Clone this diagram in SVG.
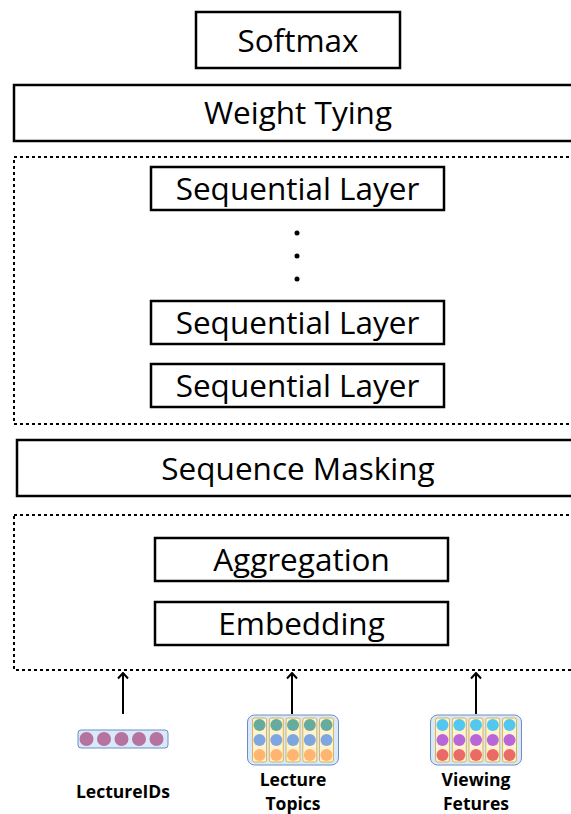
<svg xmlns="http://www.w3.org/2000/svg" width="571" height="814" viewBox="0 0 571 814">
  <defs>
    <style>
      .box { fill: #ffffff; stroke: #000000; stroke-width: 2.5; }
      .group { fill: none; stroke: #000000; stroke-width: 2; stroke-dasharray: 3 3; }
      .lbl { font-family: "Open Sans", "Noto Sans", "DejaVu Sans", sans-serif; font-size: 31.5px; fill: #000000; text-anchor: middle; }
      .cap { font-family: "Open Sans", "Noto Sans", "DejaVu Sans", sans-serif; font-size: 17.5px; font-weight: bold; fill: #000000; text-anchor: middle; }
      .edge { fill: none; stroke: #000000; stroke-width: 2; }
      .tray { fill: #dae8fc; stroke: #6c8ebf; stroke-width: 1; }
      .col { fill: #fff2cc; stroke: #d6b656; stroke-width: 1; }
    </style>
    <marker id="arrow" viewBox="0 0 10 12" refX="8.5" refY="6" markerWidth="10" markerHeight="12" markerUnits="userSpaceOnUse" orient="auto">
      <path d="M3 1 L8.5 6 L3 11" fill="none" stroke="#000000" stroke-width="2"/>
    </marker>
    <!-- one feature column: three dots stacked -->
    <g id="col3">
      <rect class="col" x="-7" y="-22" width="14" height="44" rx="2"/>
      <circle cx="0" cy="-15" r="6"/>
    </g>
  </defs>

  <!-- dashed grouping frames -->
  <rect id="stack-frame" class="group" x="14" y="157" width="600" height="267"/>
  <rect id="input-frame" class="group" x="14" y="515" width="600" height="155"/>

  <g id="softmax">
    <rect class="box" x="196" y="12" width="204" height="56"/>
    <text class="lbl" x="298" y="52">Softmax</text>
  </g>

  <g id="weight-tying">
    <rect class="box" x="14" y="85" width="600" height="56"/>
    <text class="lbl" x="298" y="124">Weight Tying</text>
  </g>

  <g id="seq-layer-top">
    <rect class="box" x="151" y="167" width="293" height="43"/>
    <text class="lbl" x="297.5" y="200">Sequential Layer</text>
  </g>

  <g id="ellipsis">
    <circle cx="297" cy="233" r="2.5" fill="#000000"/>
    <circle cx="297" cy="256" r="2.5" fill="#000000"/>
    <circle cx="297" cy="279" r="2.5" fill="#000000"/>
  </g>

  <g id="seq-layer-2">
    <rect class="box" x="151" y="301" width="293" height="43"/>
    <text class="lbl" x="297.5" y="334">Sequential Layer</text>
  </g>

  <g id="seq-layer-1">
    <rect class="box" x="151" y="364" width="293" height="43"/>
    <text class="lbl" x="297.5" y="397">Sequential Layer</text>
  </g>

  <g id="sequence-masking">
    <rect class="box" x="17" y="440" width="600" height="56"/>
    <text class="lbl" x="298" y="480">Sequence Masking</text>
  </g>

  <g id="aggregation">
    <rect class="box" x="155" y="538" width="293" height="43"/>
    <text class="lbl" x="301.5" y="571">Aggregation</text>
  </g>

  <g id="embedding">
    <rect class="box" x="155" y="602" width="293" height="43"/>
    <text class="lbl" x="301.5" y="635">Embedding</text>
  </g>

  <!-- input features -->
  <g id="lecture-ids">
    <rect class="tray" x="78" y="730" width="90" height="18" rx="3"/>
    <g fill="#b5739d">
      <circle cx="86.5" cy="739" r="7"/>
      <circle cx="104" cy="739" r="7"/>
      <circle cx="121.5" cy="739" r="7"/>
      <circle cx="139" cy="739" r="7"/>
      <circle cx="156.5" cy="739" r="7"/>
    </g>
    <text class="cap" x="123" y="798">LectureIDs</text>
  </g>

  <g id="lecture-topics">
    <rect class="tray" x="247.5" y="715" width="91" height="50" rx="7"/>
    <g fill="#67ab9f">
      <use href="#col3" x="259.5" y="740"/>
      <use href="#col3" x="276.3" y="740"/>
      <use href="#col3" x="293" y="740"/>
      <use href="#col3" x="309.8" y="740"/>
      <use href="#col3" x="326.5" y="740"/>
    </g>
    <g fill="#7ea6e0">
      <circle cx="259.5" cy="740" r="6"/><circle cx="276.3" cy="740" r="6"/><circle cx="293" cy="740" r="6"/><circle cx="309.8" cy="740" r="6"/><circle cx="326.5" cy="740" r="6"/>
    </g>
    <g fill="#ffb570">
      <circle cx="259.5" cy="755" r="6"/><circle cx="276.3" cy="755" r="6"/><circle cx="293" cy="755" r="6"/><circle cx="309.8" cy="755" r="6"/><circle cx="326.5" cy="755" r="6"/>
    </g>
    <text class="cap" x="293" y="786">Lecture</text>
    <text class="cap" x="293" y="810">Topics</text>
  </g>

  <g id="viewing-features">
    <rect class="tray" x="430.5" y="715" width="91" height="50" rx="7"/>
    <g fill="#52c8f0">
      <use href="#col3" x="442.5" y="740"/>
      <use href="#col3" x="459.3" y="740"/>
      <use href="#col3" x="476" y="740"/>
      <use href="#col3" x="492.8" y="740"/>
      <use href="#col3" x="509.5" y="740"/>
    </g>
    <g fill="#b966da">
      <circle cx="442.5" cy="740" r="6"/><circle cx="459.3" cy="740" r="6"/><circle cx="476" cy="740" r="6"/><circle cx="492.8" cy="740" r="6"/><circle cx="509.5" cy="740" r="6"/>
    </g>
    <g fill="#ea6b66">
      <circle cx="442.5" cy="755" r="6"/><circle cx="459.3" cy="755" r="6"/><circle cx="476" cy="755" r="6"/><circle cx="492.8" cy="755" r="6"/><circle cx="509.5" cy="755" r="6"/>
    </g>
    <text class="cap" x="476" y="786">Viewing</text>
    <text class="cap" x="476" y="810">Fetures</text>
  </g>

  <!-- connectors into the input frame -->
  <g id="connectors">
    <line class="edge" x1="123" y1="714" x2="123" y2="673" marker-end="url(#arrow)"/>
    <line class="edge" x1="292" y1="714" x2="292" y2="673" marker-end="url(#arrow)"/>
    <line class="edge" x1="476" y1="714" x2="476" y2="673" marker-end="url(#arrow)"/>
  </g>
</svg>
